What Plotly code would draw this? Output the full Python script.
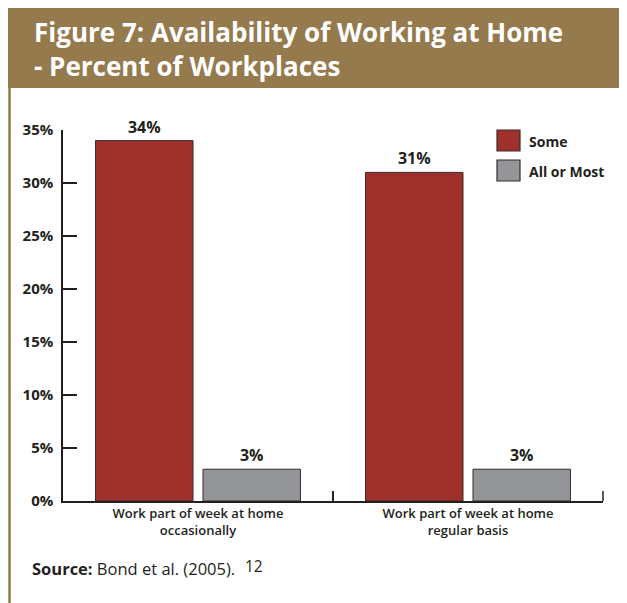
import plotly.graph_objects as go

categories = ["Work part of week at home<br>occasionally", "Work part of week at home<br>regular basis"]
series_names = ["Some", "All or Most"]
some_values = [34, 31]
all_most_values = [3, 3]
y_ticks = [0, 5, 10, 15, 20, 25, 30, 35]
y_tick_labels = [f"{v}%" for v in y_ticks]

colors = ["#A0302B", "#939598"]
TXT = "#231F20"
BROWN = "#957A4E"
FONT = "Open Sans"

W, H = 627, 603
OFF = 8  # page body margin
L, R, T, B = 55, 32, 122, 110
pw, ph = W - L - R, H - T - B


def px(x):
    return (x - OFF - L) / pw


def py(y):
    return 1 - (y - OFF - T) / ph


fig = go.Figure()
for name, vals, col in zip(series_names, [some_values, all_most_values], colors):
    fig.add_trace(go.Bar(
        x=categories, y=vals, name=name,
        marker=dict(color=col, line=dict(color="#3a2a28", width=1)),
        texttemplate="%{y}%", textposition="outside",
        textfont=dict(family=FONT, size=16, color=TXT, weight="bold"),
        cliponaxis=False, showlegend=False,
    ))

shapes = [
    # header band
    dict(type="rect", xref="paper", yref="paper", x0=px(8), x1=px(640), y0=py(88), y1=py(8),
         fillcolor=BROWN, line=dict(width=0), layer="below"),
    # left vertical rule
    dict(type="line", xref="paper", yref="paper", x0=px(9.5), x1=px(9.5), y0=py(88), y1=py(620),
         line=dict(color=BROWN, width=2.5)),
    # right end tick on the x axis
    dict(type="line", xref="paper", yref="paper", x0=1, x1=1, y0=0, y1=10 / ph,
         line=dict(color=TXT, width=1.5)),
]
annotations = [
    dict(text="Figure 7: Availability of Working at Home<br>- Percent of Workplaces",
         xref="paper", yref="paper", x=px(32), y=py(49), xanchor="left", yanchor="middle",
         align="left", showarrow=False,
         font=dict(family=FONT, size=26, color="white", weight="bold")),
    dict(text="<b>Source:</b> Bond et al. (2005).",
         xref="paper", yref="paper", x=px(30), y=py(568), xanchor="left", yanchor="middle",
         showarrow=False, font=dict(family=FONT, size=16.5, color=TXT)),
    dict(text="12",
         xref="paper", yref="paper", x=px(243), y=py(566), xanchor="left", yanchor="middle",
         showarrow=False, font=dict(family=FONT, size=15.5, color=TXT)),
]
# manual legend
for i, (name, col) in enumerate(zip(series_names, colors)):
    top = 130 + i * 30
    shapes.append(dict(type="rect", xref="paper", yref="paper", x0=px(497), x1=px(520),
                       y0=py(top + 21), y1=py(top), fillcolor=col,
                       line=dict(color="#3a2a28", width=1.2)))
    annotations.append(dict(text=name, xref="paper", yref="paper", x=px(527), y=py(top + 11),
                            xanchor="left", yanchor="middle", showarrow=False,
                            font=dict(family=FONT, size=14, color=TXT, weight="bold")))

fig.update_layout(
    width=W, height=H,
    margin=dict(l=L, r=R, t=T, b=B),
    paper_bgcolor="white", plot_bgcolor="white",
    barmode="group", bargap=0.204, bargroupgap=0.093,
    shapes=shapes, annotations=annotations,
    xaxis=dict(range=[-0.5, 1.5], showline=True, linecolor=TXT, linewidth=1.5,
               ticks="inside", tickson="boundaries", ticklen=10, tickcolor=TXT, tickwidth=1.5,
               tickfont=dict(family=FONT, size=13, color=TXT, weight=600),
               showgrid=False, zeroline=False),
    yaxis=dict(range=[0, 35], showline=True, linecolor=TXT, linewidth=1.5,
               tickvals=y_ticks, ticktext=y_tick_labels,
               ticks="inside", ticklen=14, tickcolor=TXT, tickwidth=1.5, ticklabelstandoff=5,
               tickfont=dict(family=FONT, size=15, color=TXT, weight="bold"),
               showgrid=False, zeroline=False),
)

fig.write_html("out.html")
